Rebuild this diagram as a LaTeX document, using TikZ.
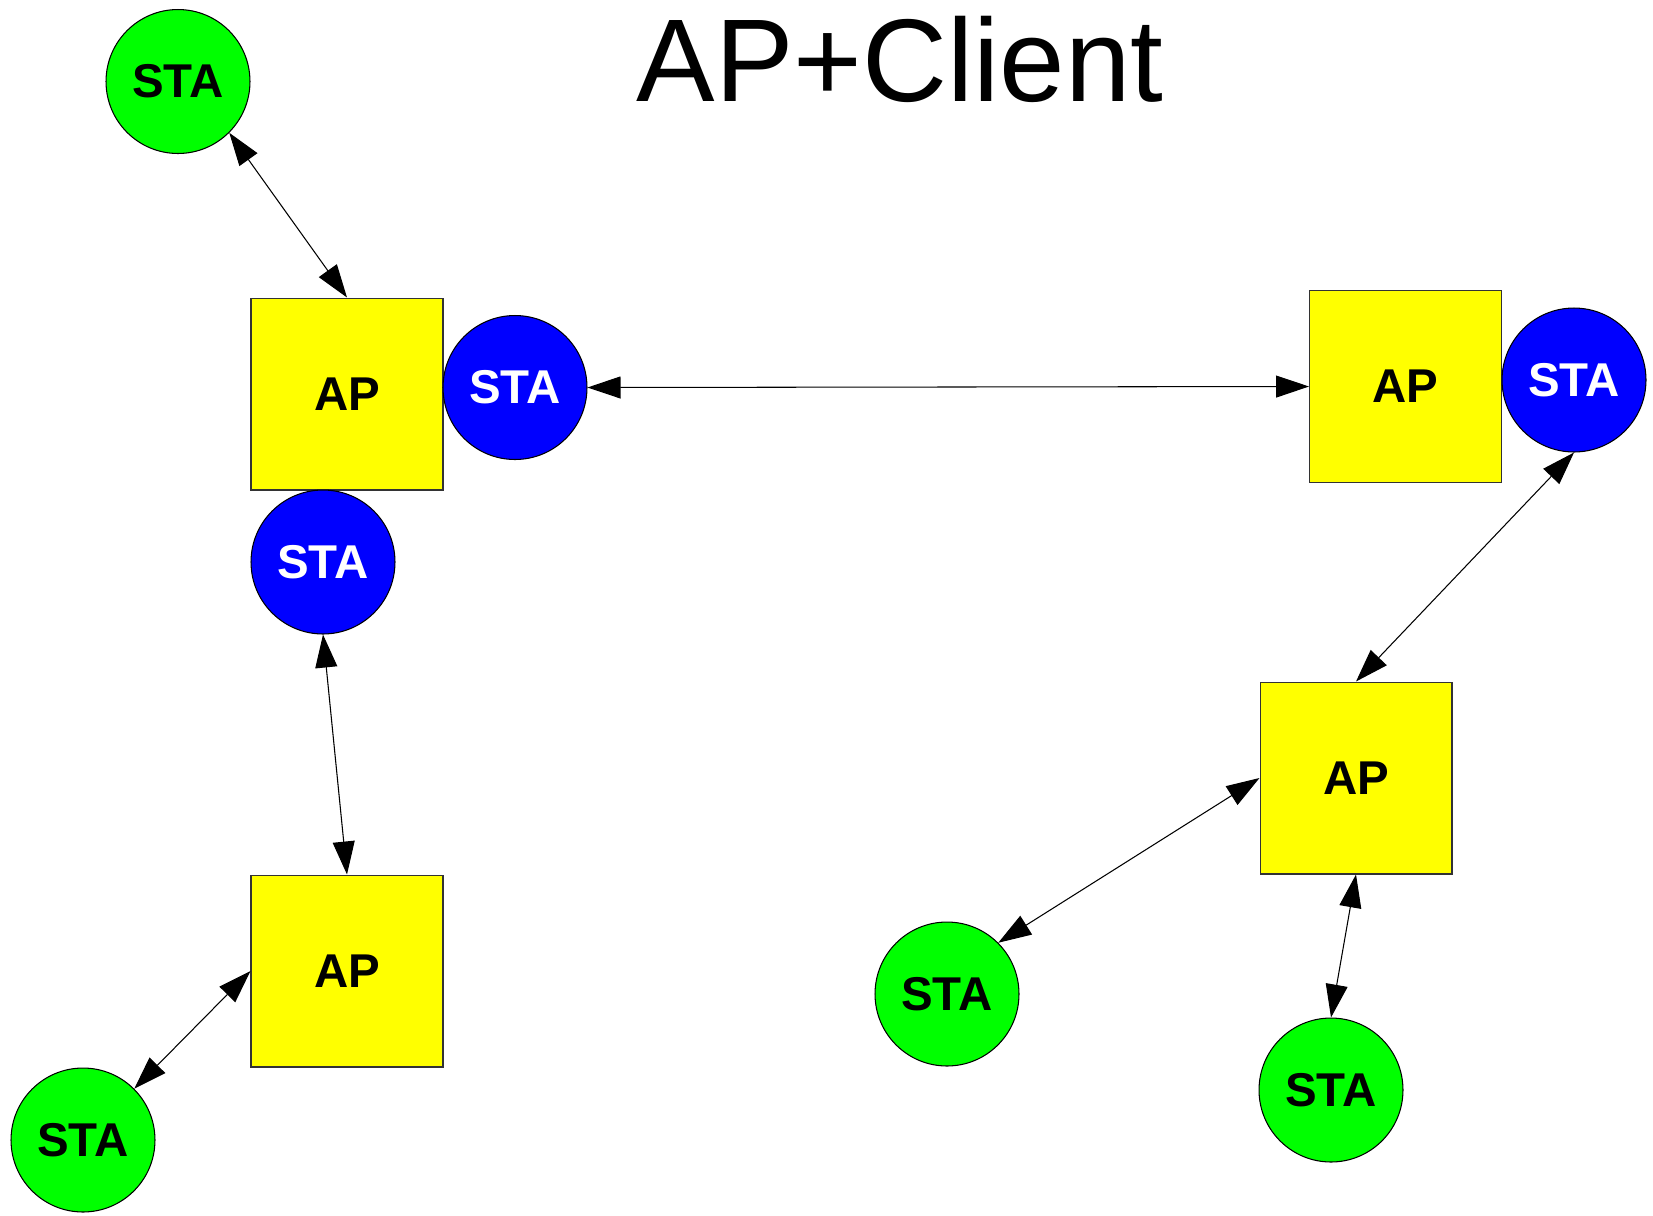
\documentclass[tikz,border=0pt]{standalone}
\usepackage{fontspec}
\setmainfont{Liberation Sans}
\usetikzlibrary{arrows.meta}
\definecolor{apyellow}{RGB}{255,255,0}
\definecolor{stagreen}{RGB}{0,255,0}
\definecolor{stablue}{RGB}{0,0,255}
\begin{document}
\begin{tikzpicture}[x=0.02cm,y=-0.02cm,
  apbox/.style={draw=black!80,line width=0.6pt,fill=apyellow,minimum size=3.84cm,inner sep=0pt,
    font=\fontsize{27}{30}\selectfont\bfseries,text=black},
  stag/.style={circle,draw=black,line width=0.6pt,fill=stagreen,minimum size=2.88cm,inner sep=0pt,
    font=\fontsize{27}{30}\selectfont\bfseries,text=black},
  stab/.style={circle,draw=black,line width=0.6pt,fill=stablue,minimum size=2.88cm,inner sep=0pt,
    font=\fontsize{27}{30}\selectfont\bfseries,text=white},
  link/.style={line width=0.6pt,{Triangle[length=0.66cm,width=0.44cm]}-{Triangle[length=0.66cm,width=0.44cm]}}
]
\useasboundingbox (0,0) rectangle (1653,1215);
\node[anchor=base,font=\fontsize{67}{80}\selectfont] (title) at (900,101) {AP+Client};

\node[stag] (gtl) at (178,81.5) {STA};
\node[apbox] (ap1) at (347,394) {AP};
\node[stab] (b1r) at (515,387.5) {STA};
\node[stab] (b1b) at (323,562) {STA};
\node[apbox] (ap2) at (347,971) {AP};
\node[stag] (gbl) at (83,1140) {STA};
\node[apbox] (ap3) at (1405.5,386.5) {AP};
\node[stab] (b3r) at (1574,380) {STA};
\node[apbox] (ap4) at (1356,778) {AP};
\node[stag] (gm) at (947,994) {STA};
\node[stag] (gb) at (1331,1090) {STA};

\draw[link] (gtl.-45) -- (ap1.north);
\draw[link] (b1r.east) -- (ap3.west);
\draw[link] (b1b.south) -- (ap2.north);
\draw[link] (ap2.west) -- (gbl.45);
\draw[link] (b3r.south) -- (ap4.north);
\draw[link] (ap4.west) -- (gm.45);
\draw[link] (ap4.south) -- (gb.north);
\end{tikzpicture}
\end{document}
